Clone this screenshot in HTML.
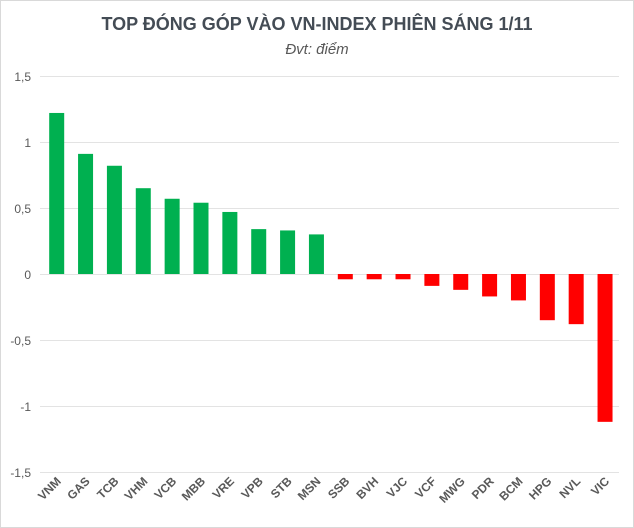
<!DOCTYPE html>
<html><head><meta charset="utf-8"><style>
body{margin:0;background:#fff;}
svg{display:block;font-family:"Liberation Sans",sans-serif;}
</style></head><body>
<svg width="634" height="528" viewBox="0 0 634 528">
<rect x="0.5" y="0.5" width="633" height="527" fill="#fff" stroke="#d9d9d9"/>
<text x="317" y="30" text-anchor="middle" font-size="18" font-weight="bold" fill="#444c55">TOP ĐÓNG GÓP VÀO VN-INDEX PHIÊN SÁNG 1/11</text>
<text x="317" y="54" text-anchor="middle" font-size="15" font-style="italic" fill="#595959">Đvt: điểm</text>
<g stroke="#e3e3e3" stroke-width="1">
<line x1="40" x2="619" y1="76.5" y2="76.5"/><line x1="40" x2="619" y1="142.5" y2="142.5"/>
<line x1="40" x2="619" y1="208.5" y2="208.5"/><line x1="40" x2="619" y1="274.5" y2="274.5"/>
<line x1="40" x2="619" y1="340.5" y2="340.5"/><line x1="40" x2="619" y1="406.5" y2="406.5"/>
<line x1="40" x2="619" y1="472.5" y2="472.5"/>
</g>
<g font-size="12" fill="#595959" text-anchor="end">
<text x="31" y="81">1,5</text><text x="31" y="147">1</text><text x="31" y="213">0,5</text>
<text x="31" y="279">0</text><text x="31" y="345">-0,5</text><text x="31" y="411">-1</text><text x="31" y="477">-1,5</text>
</g>
<g id="bars"></g>
<g id="labels" font-size="12" font-weight="bold" fill="#595959" text-anchor="end"></g>
<script>
var d=[["VNM",1.22],["GAS",0.91],["TCB",0.82],["VHM",0.65],["VCB",0.57],["MBB",0.54],["VRE",0.47],["VPB",0.34],["STB",0.33],["MSN",0.30],["SSB",-0.04],["BVH",-0.04],["VJC",-0.04],["VCF",-0.09],["MWG",-0.12],["PDR",-0.17],["BCM",-0.2],["HPG",-0.35],["NVL",-0.38],["VIC",-1.12]];
var b=document.getElementById("bars"),l=document.getElementById("labels"),ns="http://www.w3.org/2000/svg";
d.forEach(function(e,i){var cx=56.7+i*28.86,v=e[1],y0=274,h=Math.abs(v)*132;
var r=document.createElementNS(ns,"rect");r.setAttribute("x",cx-7.5);r.setAttribute("width",15);
r.setAttribute("y",v>0?y0-h:y0);r.setAttribute("height",h);r.setAttribute("fill",v>0?"#00b050":"#ff0000");b.appendChild(r);
var t=document.createElementNS(ns,"text");t.setAttribute("transform","translate("+(cx+5)+",482) rotate(-45)");t.textContent=e[0];l.appendChild(t);});
</script>
</svg>
</body></html>
